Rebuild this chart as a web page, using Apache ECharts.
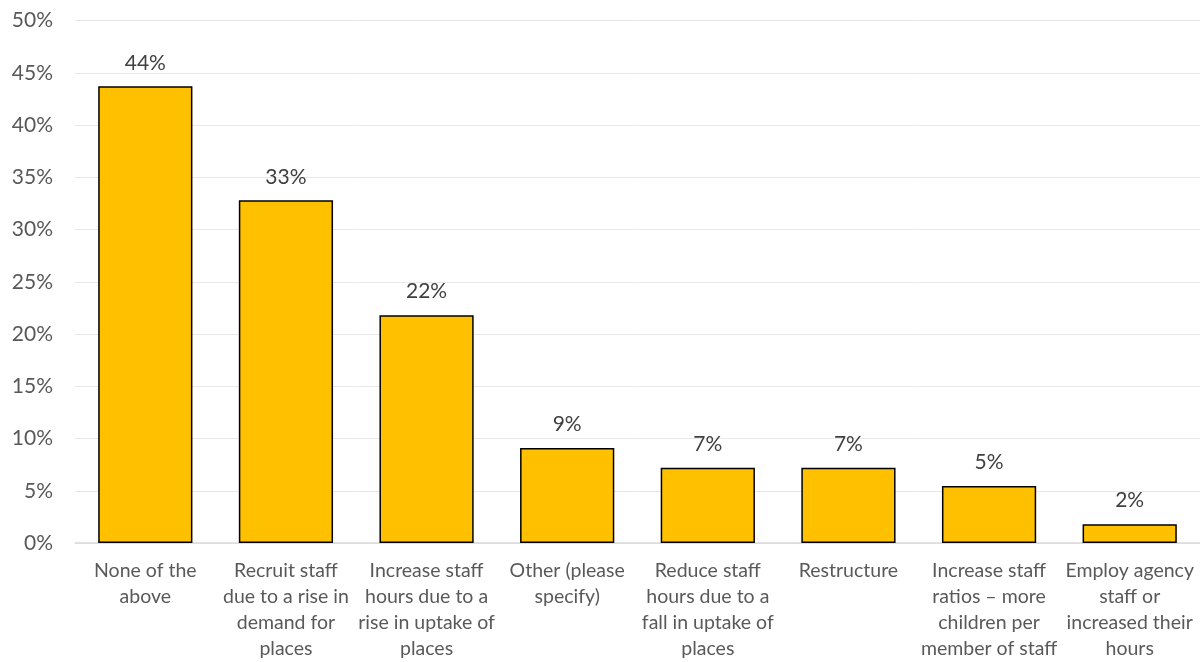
<!DOCTYPE html>
<html>
<head>
<meta charset="utf-8">
<script src="https://cdn.jsdelivr.net/npm/echarts@6/dist/echarts.min.js"></script>
<style>html,body{margin:0;padding:0;background:#fff}#c{width:1200px;height:662px}</style>
</head>
<body>
<div id="c"></div>
<script>
const categories = [
  "None of the\nabove",
  "Recruit staff\ndue to a rise in\ndemand for\nplaces",
  "Increase staff\nhours due to a\nrise in uptake of\nplaces",
  "Other (please\nspecify)",
  "Reduce staff\nhours due to a\nfall in uptake of\nplaces",
  "Restructure",
  "Increase staff\nratios \u2013 more\nchildren per\nmember of staff",
  "Employ agency\nstaff or\nincreased their\nhours"
];
const values = [43.7, 32.8, 21.8, 9.1, 7.2, 7.2, 5.45, 1.8];
const yTicks = [0, 5, 10, 15, 20, 25, 30, 35, 40, 45, 50];

const chart = echarts.init(document.getElementById('c'));
chart.setOption({
  animation: false,
  textStyle: { fontFamily: 'Lato, "Open Sans", sans-serif' },
  grid: { left: 75, right: 0, top: 20.5, bottom: 116, containLabel: false },
  xAxis: {
    type: 'category',
    data: categories,
    axisLine: { show: true, lineStyle: { color: '#d9d9d9', width: 1.5 } },
    axisTick: { show: false },
    axisLabel: { color: '#595959', fontSize: 19.5, lineHeight: 26, margin: 15, interval: 0, fontFamily: 'Lato, sans-serif' }
  },
  yAxis: {
    type: 'value',
    min: yTicks[0], max: yTicks[yTicks.length - 1], interval: 5,
    axisLine: { show: false },
    axisTick: { show: false },
    splitLine: { lineStyle: { color: '#e8e8e8', width: 1 } },
    axisLabel: { color: '#595959', fontSize: 21, margin: 22, formatter: v => v + '%', fontFamily: 'Lato, sans-serif' }
  },
  series: [{
    type: 'bar',
    data: values,
    barWidth: '67%',
    itemStyle: { color: '#FFC000', borderColor: '#000', borderWidth: 1.5 },
    label: {
      show: true, position: 'top', distance: 13,
      color: '#404040', fontSize: 21, fontFamily: 'Lato, sans-serif',
      formatter: p => Math.round(p.value) + '%'
    }
  }]
});
</script>
</body>
</html>
